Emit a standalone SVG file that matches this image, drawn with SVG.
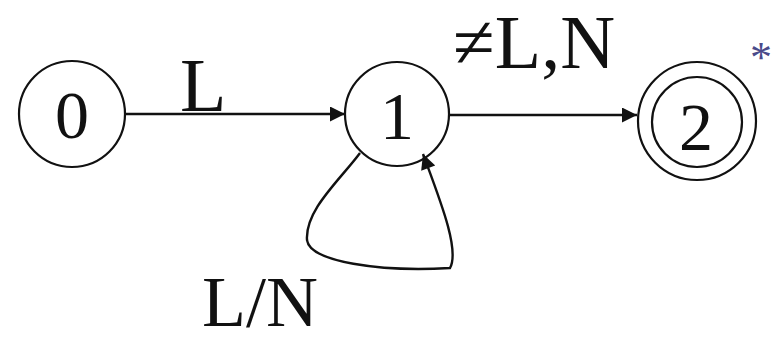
<svg xmlns="http://www.w3.org/2000/svg" width="775" height="341" viewBox="0 0 775 341">
<style>
.st{fill:none;stroke:#111;stroke-width:2.2}
.ed{fill:none;stroke:#111;stroke-width:2.4}
.lb{font-family:"Liberation Serif","Times New Roman",serif;fill:#111}
</style>
<defs>
<marker id="ah" viewBox="0 0 10 10" refX="10" refY="5" markerWidth="20" markerHeight="15" markerUnits="userSpaceOnUse" orient="auto">
<path d="M0,0 L10,5 L0,10 Z" fill="#111"/>
</marker>
</defs>
<rect width="775" height="341" fill="#fff"/>
<g id="connectors">
<line class="ed" x1="126" y1="114" x2="345" y2="114" marker-end="url(#ah)"/>
<line class="ed" x1="450" y1="115" x2="637" y2="115" marker-end="url(#ah)"/>
<path class="ed" d="M360,153 C340,180 305,210 307,240 C310,262 380,272 450,268 C460,250 440,200 423,154" marker-end="url(#ah)"/>
<text class="lb" x="180" y="111" font-size="76">L</text>
<text class="lb" x="453" y="68" font-size="76">≠L,N</text>
<text class="lb" x="202" y="326" font-size="72">L/N</text>
</g>
<g id="node0">
<circle class="st" cx="72" cy="114" r="53"/>
<text class="lb" x="72" y="138" font-size="68" text-anchor="middle">0</text>
</g>
<g id="node1">
<circle class="st" cx="397" cy="114" r="52"/>
<text class="lb" x="397" y="139" font-size="68" text-anchor="middle">1</text>
</g>
<g id="node2">
<circle class="st" cx="697" cy="121" r="59"/>
<circle class="st" cx="697" cy="122" r="45"/>
<text class="lb" x="696" y="150" font-size="68" text-anchor="middle">2</text>
<text x="761" y="72" font-size="44" text-anchor="middle" font-family="Liberation Serif,serif" fill="#4a4a8a">*</text>
</g>
</svg>
